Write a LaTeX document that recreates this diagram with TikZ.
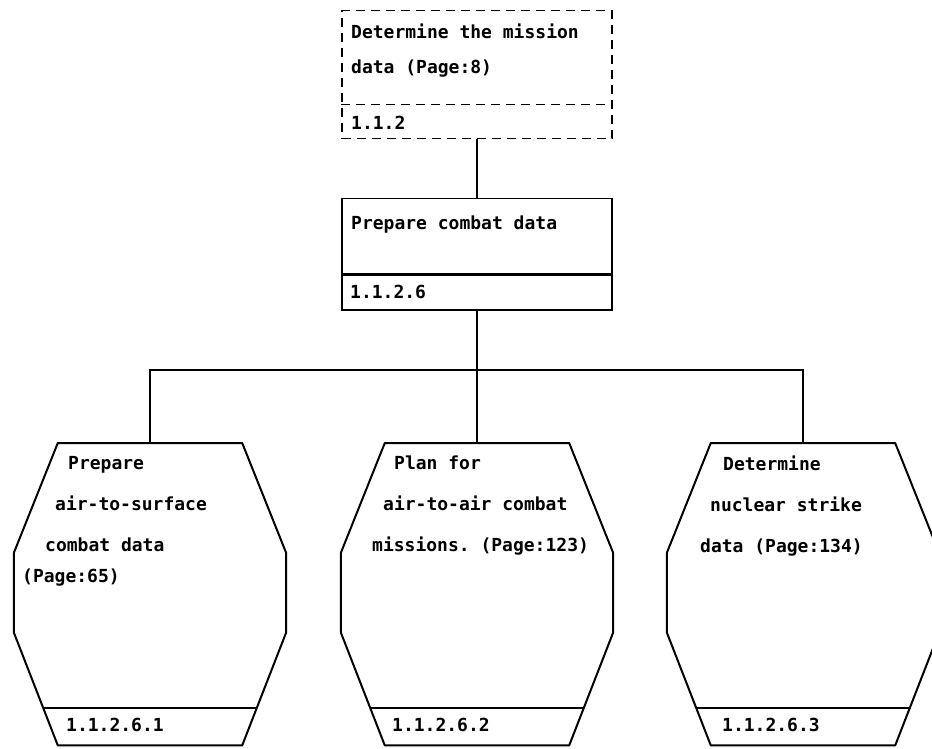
\documentclass[tikz,border=0pt]{standalone}
\usepackage{fontspec}
\setmonofont{DejaVu Sans Mono}
\usetikzlibrary{positioning}

\tikzset{
  box/.style={draw, line width=1.4pt, minimum width=270pt, inner sep=0pt, anchor=north},
  dashbox/.style={box, dash pattern=on 9pt off 6pt},
  barrel/.style={minimum width=272pt, minimum height=302pt, inner sep=0pt, anchor=north},
  outline/.style={line width=2pt, line join=round},
  wire/.style={line width=1.1pt},
  txt/.style={anchor=west, inner sep=0pt, align=left,
    font=\fontsize{18pt}{41pt}\selectfont\ttfamily\bfseries},
}

\begin{document}
\begin{tikzpicture}[x=1pt,y=-1pt]
 \useasboundingbox (0,0) rectangle (932,748);
 \clip (0,0) rectangle (932,748);
 % parent boxes
 \node[dashbox, minimum height=128pt] (mission) at (477,10) {};
 \draw[line width=1.4pt, dash pattern=on 9pt off 6pt] ([yshift=35pt]mission.south west) -- ([yshift=35pt]mission.south east);
 \node[box, minimum height=75pt] (combat) at (477,198) {};
 \node[box, minimum height=35pt, below=0pt of combat] (combatid) {};
 % child processes
 \node[barrel] (surf) at (150,443) {};
 \node[barrel] (air) at (477,443) {};
 \node[barrel] (nuc) at (803,443) {};
 \foreach \n in {surf,air,nuc} {
  \draw[outline] ([xshift=44pt]\n.north west) -- ([xshift=-44pt]\n.north east)
   -- ([yshift=-110pt]\n.north east) -- ([yshift=113pt]\n.south east)
   -- ([xshift=-44pt]\n.south east) -- ([xshift=44pt]\n.south west)
   -- ([yshift=113pt]\n.south west) -- ([yshift=-110pt]\n.north west) -- cycle;
  \draw[outline] ([xshift=29pt,yshift=37pt]\n.south west) -- ([xshift=-29pt,yshift=37pt]\n.south east);
 }
 % connectors
 \coordinate (split) at (477,370);
 \draw[wire] (mission.south) -- (combat.north);
 \draw[wire] (combatid.south) -- (split);
 \draw[wire] (surf.north) |- (split) -| (nuc.north);
 \draw[wire] (split) -- (air.north);
 % texts
 \node[txt, font=\fontsize{18pt}{35pt}\selectfont\ttfamily\bfseries] (missiontxt) at (351,50.5) {Determine the mission\\data (Page:8)};
 \node[txt] (missionnum) at (351,123) {1.1.2};
 \node[txt] (combattxt) at (351,225) {Prepare combat data};
 \node[txt] (combatnum) at (350,292) {1.1.2.6};
 \node[txt] (surftxt) at (22,521) {\hspace*{46pt}Prepare\\\hspace*{33pt}air-to-surface\\\hspace*{23pt}combat data\\[-10pt](Page:65)};
 \node[txt] (airtxt) at (372,506) {\hspace*{22pt}Plan for\\\hspace*{11pt}air-to-air combat\\missions. (Page:123)};
 \node[txt] (nuctxt) at (700,506) {\hspace*{23pt}Determine\\\hspace*{10pt}nuclear strike\\data (Page:134)};
 \node[txt] (surfnum) at (66,725) {1.1.2.6.1};
 \node[txt] (airnum) at (392,725) {1.1.2.6.2};
 \node[txt] (nucnum) at (722,725) {1.1.2.6.3};
\end{tikzpicture}
\end{document}
